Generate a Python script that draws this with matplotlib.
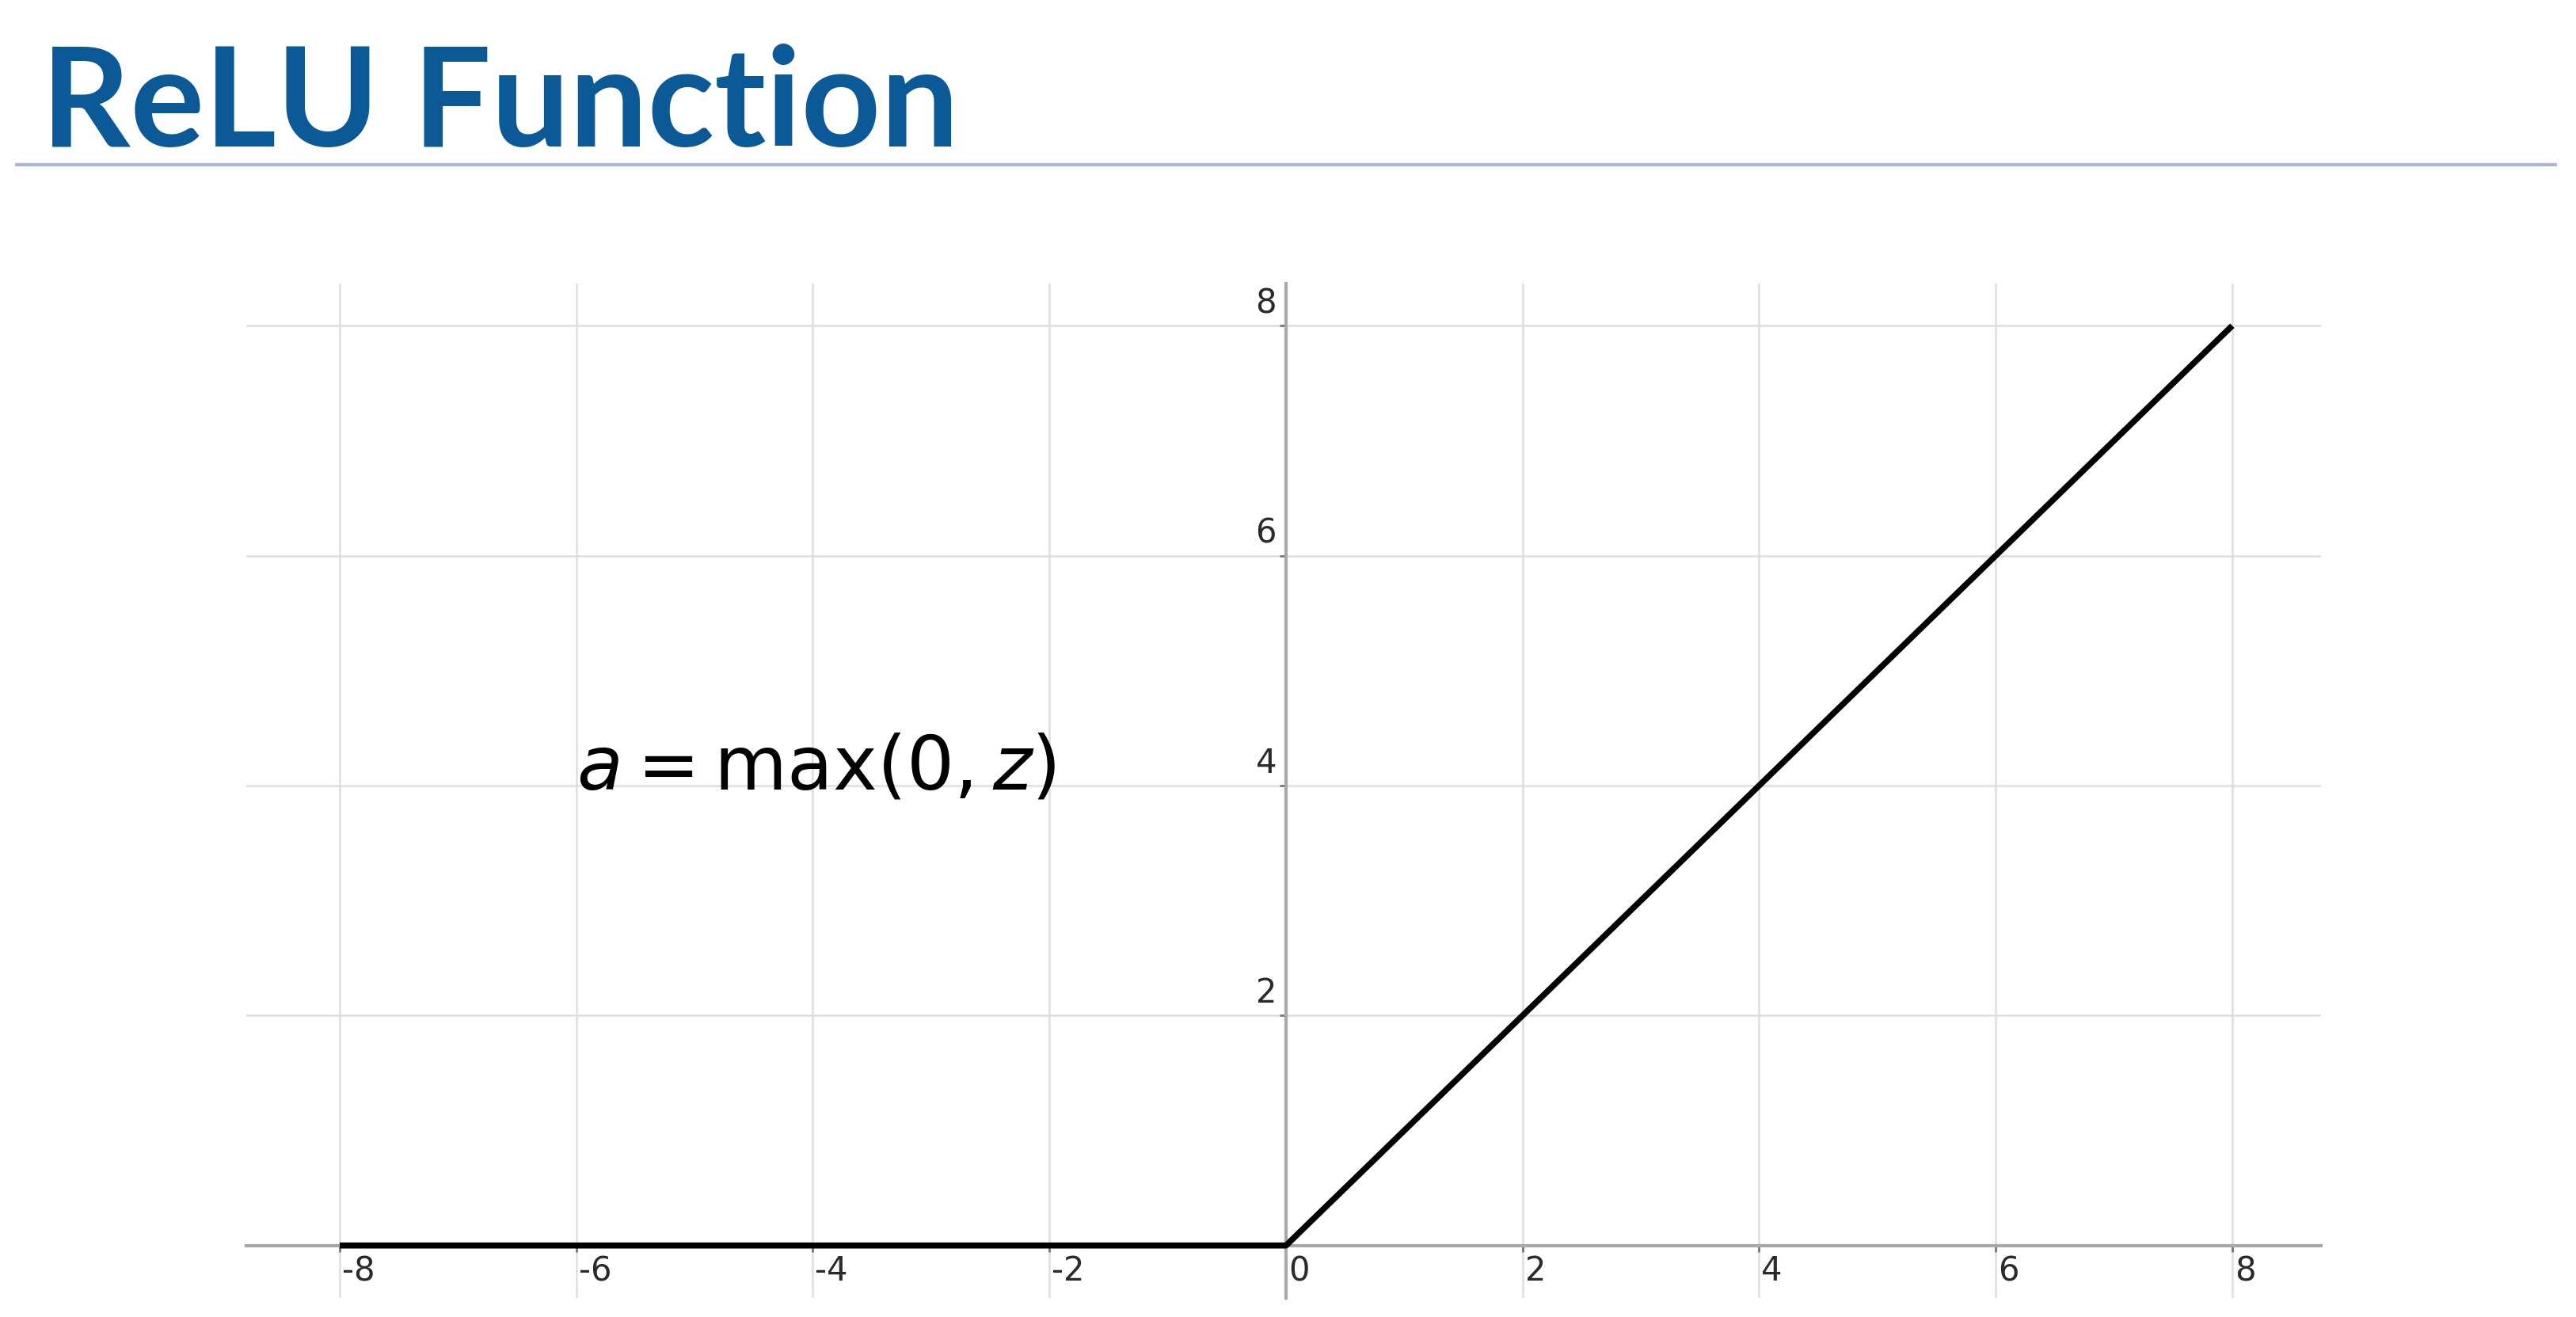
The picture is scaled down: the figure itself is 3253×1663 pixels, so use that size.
import matplotlib
matplotlib.use("Agg")
import matplotlib.pyplot as plt

# values
z_vals = [-8, 0, 8]
a_vals = [0, 0, 8]
x_ticks = [-8, -6, -4, -2, 0, 2, 4, 6, 8]
y_ticks = [2, 4, 6, 8]
title = "ReLU Function"
formula = r"$a = \max(0, z)$"

fig = plt.figure(figsize=(32.53, 16.63), dpi=100)
fig.patch.set_facecolor("white")

# slide title and rule
fig.text(0.016, 0.889, title, fontsize=126, fontweight="bold", family="Lato",
         color="#0b5a97", ha="left", va="baseline")
fig.add_artist(plt.Line2D([0.0065, 0.992], [0.875, 0.875], color="#aab6d4",
                          lw=3, transform=fig.transFigure))

ax = fig.add_axes([0.0956, 0.0144, 0.8054, 0.7706])
ax.set_xlim(-8.79, 8.75)
ax.set_ylim(-0.457, 8.37)

for x in x_ticks:
    ax.axvline(x, color="#dedede", lw=1.8, zorder=0)
for y in y_ticks:
    ax.axhline(y, color="#dedede", lw=1.8, zorder=0)

ax.spines["left"].set_position(("data", 0))
ax.spines["bottom"].set_position(("data", 0))
ax.spines["right"].set_visible(False)
ax.spines["top"].set_visible(False)
for s in ("left", "bottom"):
    ax.spines[s].set_color("#a8a8a8")
    ax.spines[s].set_linewidth(3)

ax.plot(z_vals, a_vals, color="black", lw=5.5, zorder=3, solid_capstyle="butt")

ax.set_xticks(x_ticks)
ax.set_yticks(y_ticks)
ax.set_xticklabels([])
ax.set_yticklabels([])
ax.tick_params(length=6, width=2, color="#777777")

for x in x_ticks:
    ax.text(x + 0.02, -0.08, str(x), fontsize=30, color="#2a2a2a",
            ha="left", va="top")
for y in y_ticks:
    ax.text(-0.08, y + 0.05, str(y), fontsize=30, color="#2a2a2a",
            ha="right", va="bottom")

ax.text(-6.0, 3.97, formula, fontsize=68, color="black",
        ha="left", va="baseline")

fig.savefig("out.png", dpi=100, facecolor="white")
